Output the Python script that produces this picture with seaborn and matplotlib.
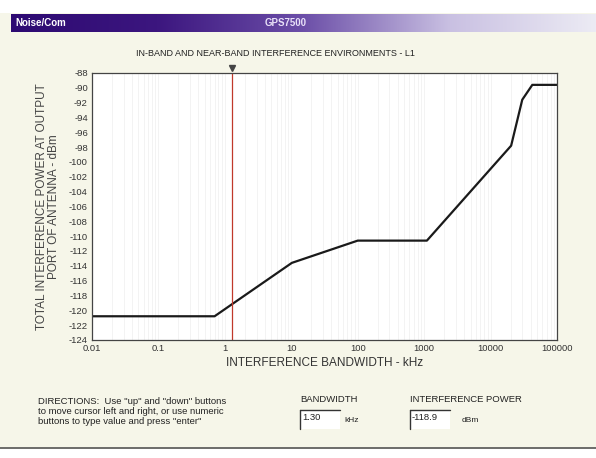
import numpy as np
import matplotlib
matplotlib.use("Agg")
import matplotlib.pyplot as plt
import seaborn as sns
from matplotlib.colors import LinearSegmentedColormap
from matplotlib.patches import Rectangle
from matplotlib.ticker import NullFormatter, LogLocator

# curve knee points (kHz, dBm)
bandwidth_khz = [0.01, 0.7, 10.2, 100, 1100, 20400, 30000, 42500, 100000]
power_dbm = [-120.8, -120.8, -113.6, -110.6, -110.6, -97.8, -91.6, -89.6, -89.6]

cursor_khz = 1.30
cursor_dbm = -118.9

x_ticks = [0.01, 0.1, 1, 10, 100, 1000, 10000, 100000]
x_tick_labels = ["0.01", "0.1", "1", "10", "100", "1000", "10000", "100000"]
y_ticks = list(range(-88, -125, -2))

BG = "#f6f6e9"

sns.set_style("white")
plt.rcParams['font.family'] = ['Liberation Sans', 'DejaVu Sans']
plt.rcParams['axes.unicode_minus'] = False

fig = plt.figure(figsize=(5.96, 4.58), dpi=100)
fig.patch.set_facecolor(BG)

# white strip on top
fig.patches.append(Rectangle((0, 1 - 13 / 458), 1, 13 / 458, transform=fig.transFigure,
                             facecolor="white", edgecolor="none", zorder=0))
# white area under bottom rule
fig.patches.append(Rectangle((0, 0), 1, 1 - 449 / 458, transform=fig.transFigure,
                             facecolor="white", edgecolor="none", zorder=0))
fig.add_artist(plt.Line2D([0, 1], [1 - 448 / 458] * 2, color="#555555", lw=1.2))

# header bar with gradient
hdr = fig.add_axes([11 / 596, 1 - 32 / 458, 585 / 596, 18 / 458])
cmap = LinearSegmentedColormap.from_list("hdr", ["#2d0a72", "#3c167f", "#6c4fa8", "#c9c0e2", "#ecebf4"])
hdr.imshow(np.linspace(0, 1, 256).reshape(1, -1), aspect="auto", cmap=cmap, extent=[0, 1, 0, 1])
hdr.set_axis_off()
hdr.text(0.008, 0.5, "Noise/Com", color="white", fontsize=7, fontweight="bold", va="center", ha="left")
hdr.text(0.47, 0.5, "GPS7500", color="#e8e0f8", fontsize=7, fontweight="bold", va="center", ha="center")

ax = fig.add_axes([92 / 596, 1 - 340 / 458, 465 / 596, 267 / 458])
ax.set_facecolor("white")

sns.lineplot(x=bandwidth_khz, y=power_dbm, ax=ax, color="#1a1a1a", lw=1.6,
             sort=False, estimator=None)

ax.set_xscale("log")
ax.set_xlim(0.01, 100000)
ax.set_ylim(-124, -88)
ax.set_xticks(x_ticks)
ax.set_xticklabels(x_tick_labels)
ax.xaxis.set_minor_locator(LogLocator(base=10, subs=np.arange(2, 10)))
ax.xaxis.set_minor_formatter(NullFormatter())
ax.set_yticks(y_ticks)
ax.tick_params(axis="both", length=0, labelsize=6.8, colors="#333333", pad=3)
ax.grid(True, which="both", axis="x", color="#f1f1f1", lw=0.6)

for s in ax.spines.values():
    s.set_color("#444444")
    s.set_linewidth(0.9)

# cursor
ax.axvline(cursor_khz, color="#c0392b", lw=0.9)
ax.plot([cursor_khz], [-87.3], marker="v", color="#444444", markersize=5, clip_on=False)

ax.set_xlabel("INTERFERENCE BANDWIDTH - kHz", fontsize=8.5, color="#333333", labelpad=3)
ax.set_ylabel("TOTAL INTERFERENCE POWER AT OUTPUT\nPORT OF ANTENNA - dBm", fontsize=8.5,
              color="#444444", labelpad=6, linespacing=1.0)

fig.text(275 / 596, 1 - 53 / 458, "IN-BAND AND NEAR-BAND INTERFERENCE ENVIRONMENTS - L1",
         fontsize=6.5, ha="center", va="center", color="#222222")

# bottom panel
directions = ['DIRECTIONS:  Use "up" and "down" buttons',
              'to move cursor left and right, or use numeric',
              'buttons to type value and press "enter"']
for i, line in enumerate(directions):
    fig.text(38 / 596, 1 - (401 + 10.5 * i) / 458, line, fontsize=6.8,
             ha="left", va="center", color="#222222")
fig.text(300 / 596, 1 - 399 / 458, "BANDWIDTH", fontsize=6.8, ha="left", va="center", color="#222222")
fig.text(410 / 596, 1 - 399 / 458, "INTERFERENCE POWER", fontsize=6.8, ha="left", va="center", color="#222222")


def text_box(x0, y0, w, h, value):
    fig.patches.append(Rectangle((x0 / 596, 1 - (y0 + h) / 458), w / 596, h / 458,
                                 transform=fig.transFigure, facecolor="white",
                                 edgecolor="none", zorder=1))
    fig.add_artist(plt.Line2D([x0 / 596, x0 / 596], [1 - y0 / 458, 1 - (y0 + h) / 458],
                              color="#333333", lw=1.0))
    fig.add_artist(plt.Line2D([x0 / 596, (x0 + w) / 596], [1 - y0 / 458] * 2,
                              color="#333333", lw=1.0))
    fig.text((x0 + 2) / 596, 1 - (y0 + 8) / 458, value, fontsize=6.8,
             ha="left", va="center", color="#222222", zorder=2)


text_box(300, 410, 40, 19, "1.30")
fig.text(344 / 596, 1 - 420 / 458, "kHz", fontsize=6, ha="left", va="center", color="#222222")
text_box(410, 410, 40, 19, "-118.9")
fig.text(462 / 596, 1 - 420 / 458, "dBm", fontsize=6, ha="left", va="center", color="#222222")

fig.savefig("out.png", dpi=100, facecolor=fig.get_facecolor())
